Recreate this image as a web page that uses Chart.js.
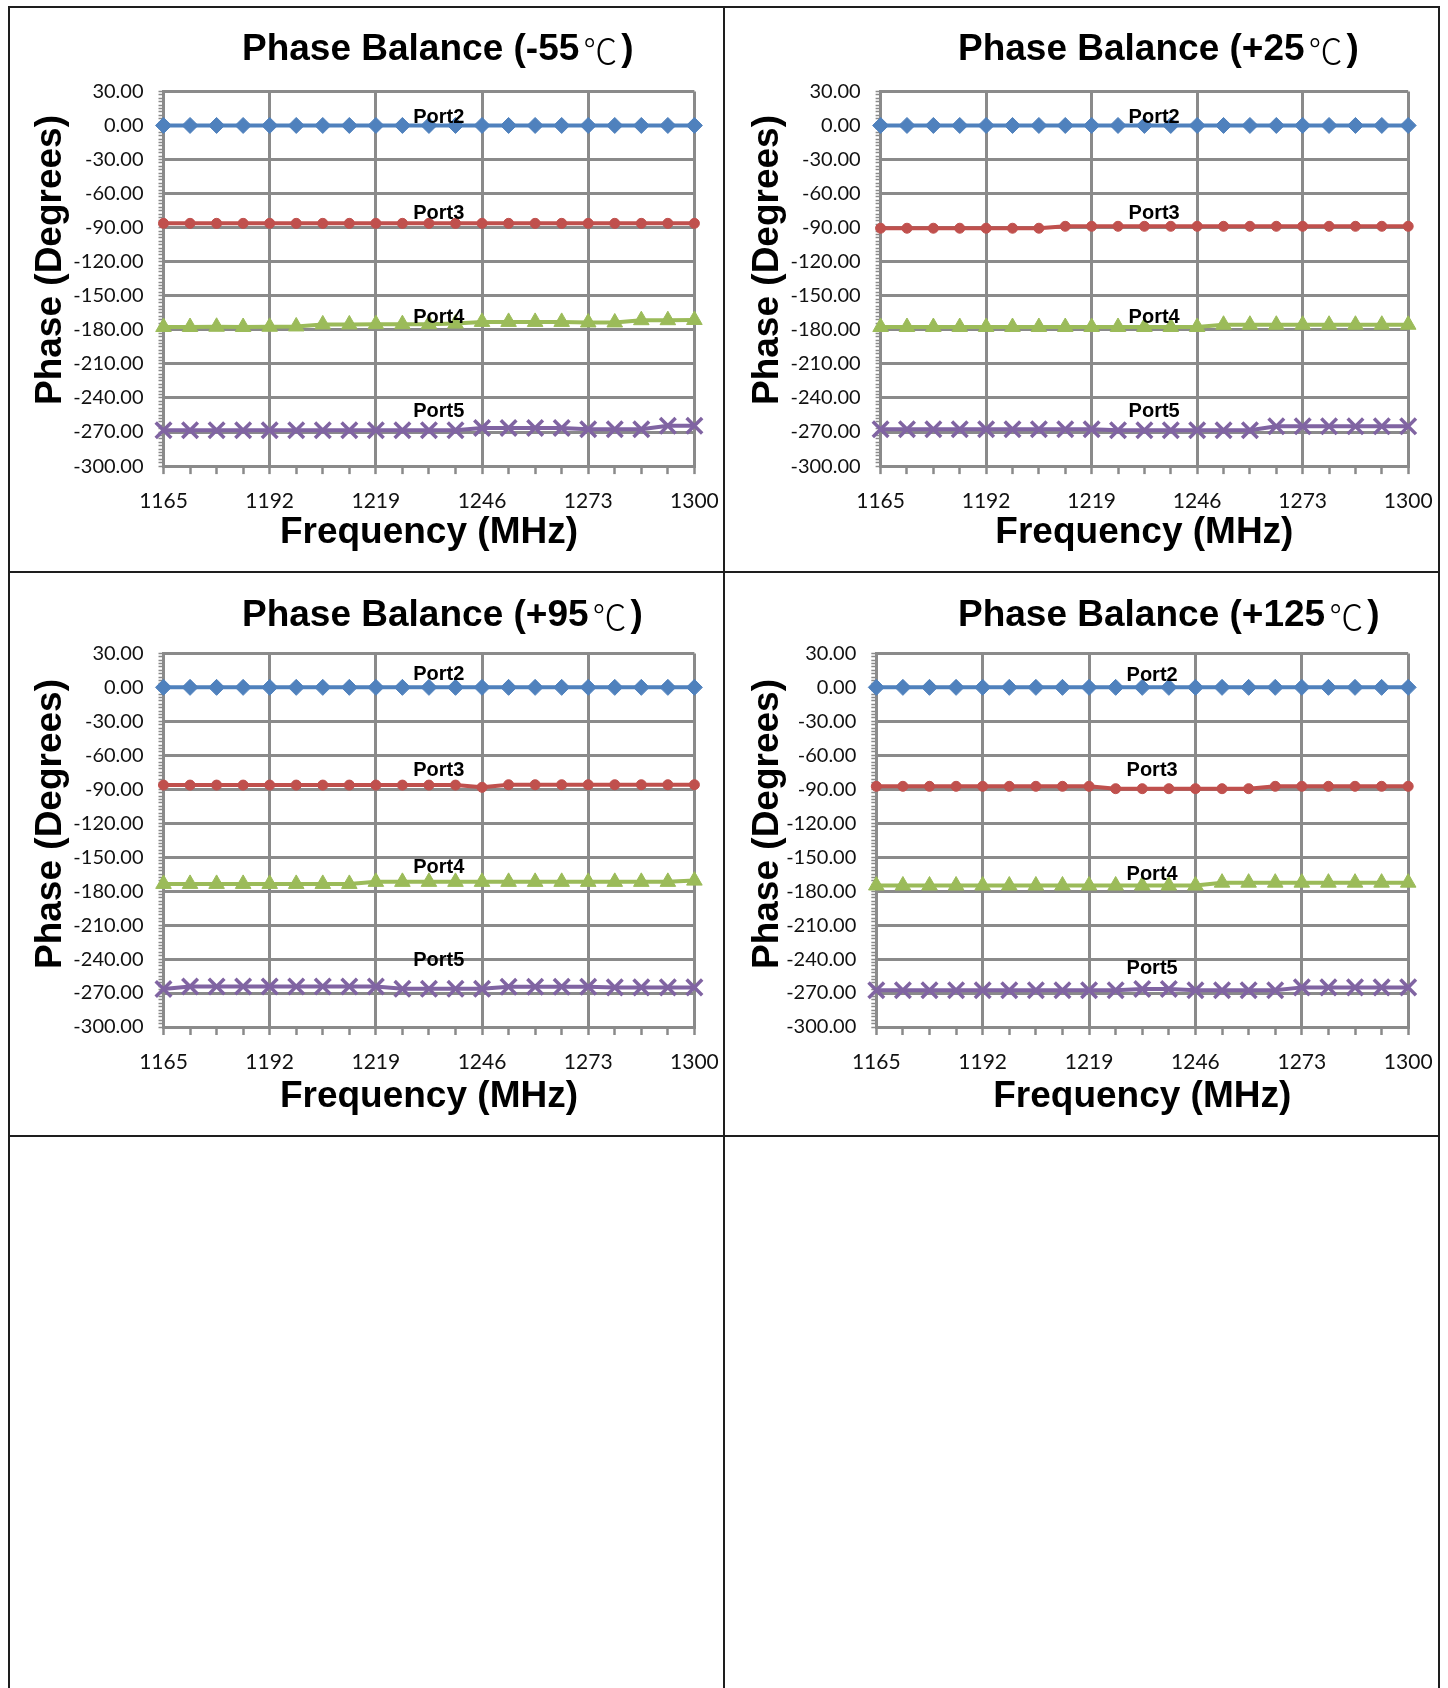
<!DOCTYPE html>
<html>
<head>
<meta charset="utf-8">
<script src="https://cdn.jsdelivr.net/npm/chart.js@4.4.1/dist/chart.umd.min.js"></script>
<style>
    body { margin: 0; background: #fff; }
    #page { position: relative; width: 1448px; height: 1688px; overflow: hidden; background: #fff; }
    .cell { position: absolute; width: 715px; height: 564px; }
    .line { position: absolute; background: #1e1e1e; }
</style>
</head>
<body>
<div id="page">
    <div class="cell" style="left:9px;top:7px"><canvas id="c0" width="715" height="564"></canvas></div>
    <div class="cell" style="left:724px;top:7px"><canvas id="c1" width="715" height="564"></canvas></div>
    <div class="cell" style="left:9px;top:572px"><canvas id="c2" width="715" height="564"></canvas></div>
    <div class="cell" style="left:724px;top:572px"><canvas id="c3" width="715" height="564"></canvas></div>

    <!-- garis sel -->
    <div class="line" style="left:8px;top:6px;width:2px;height:1682px"></div>
    <div class="line" style="left:723px;top:6px;width:2px;height:1682px"></div>
    <div class="line" style="left:1438px;top:6px;width:2px;height:1682px"></div>
    <div class="line" style="left:8px;top:6px;width:1432px;height:2px"></div>
    <div class="line" style="left:8px;top:571px;width:1432px;height:2px"></div>
    <div class="line" style="left:8px;top:1135px;width:1432px;height:2px"></div>
</div>

<script>
// Frekuensi (MHz) untuk setiap titik
const freqs = [1165, 1171.75, 1178.5, 1185.25, 1192, 1198.75, 1205.5, 1212.25, 1219, 1225.75, 1232.5,
               1239.25, 1246, 1252.75, 1259.5, 1266.25, 1273, 1279.75, 1286.5, 1293.25, 1300];
const xTickLabels = [1165, 1192, 1219, 1246, 1273, 1300];
const yTickLabels = [30, 0, -30, -60, -90, -120, -150, -180, -210, -240, -270, -300];

const portNames = ['Port2', 'Port3', 'Port4', 'Port5'];
const portColors = ['#4F81BD', '#C0504D', '#9BBB59', '#8064A2'];
const portMarkers = ['rectRot', 'circle', 'triangle', 'crossRot'];

const titles = ['Phase Balance (-55\u2103)', 'Phase Balance (+25\u2103)',
                'Phase Balance (+95\u2103)', 'Phase Balance (+125\u2103)'];

// -55 C
const port2_m55 = [0, 0, 0, 0, 0, 0, 0, 0, 0, 0, 0, 0, 0, 0, 0, 0, 0, 0, 0, 0, 0];
const port3_m55 = [-86.2, -86.2, -86.2, -86.2, -86.2, -86.2, -86.2, -86.2, -86.2, -86.2, -86.2,
                   -86.2, -86.2, -86.2, -86.2, -86.2, -86.2, -86.2, -86.2, -86.2, -86.2];
const port4_m55 = [-177.5, -177.5, -177.3, -177.5, -177.3, -177, -175.2, -175.2, -175, -175, -175,
                   -174.5, -173, -173, -173, -173, -173.5, -173.5, -171.5, -171.5, -171.3];
const port5_m55 = [-268.5, -268.5, -268.5, -268.5, -268.5, -268.5, -268.5, -268.5, -268.5, -268.5, -268.5,
                   -268.5, -266.5, -266.5, -266.5, -266.5, -267.5, -267.5, -267.5, -264.5, -264.5];

// +25 C
const port2_p25 = [0, 0, 0, 0, 0, 0, 0, 0, 0, 0, 0, 0, 0, 0, 0, 0, 0, 0, 0, 0, 0];
const port3_p25 = [-90.5, -90.5, -90.5, -90.5, -90.5, -90.5, -90.5, -88.8, -88.8, -88.8, -88.8,
                   -88.8, -88.8, -88.8, -88.8, -88.8, -88.8, -88.8, -88.8, -88.8, -88.8];
const port4_p25 = [-177.5, -177.5, -177.5, -177.5, -177.5, -177.5, -177.5, -177.5, -177.5, -177.5, -177.5,
                   -177.5, -177.5, -175.5, -175.5, -175.5, -175.5, -175.5, -175.5, -175.5, -175.5];
const port5_p25 = [-267.5, -267.5, -267.5, -267.5, -267.5, -267.5, -267.5, -267.5, -267.5, -268.5, -268.5,
                   -268.5, -268.5, -268.5, -268.5, -265, -265, -265, -265, -265, -265];

// +95 C
const port2_p95 = [0, 0, 0, 0, 0, 0, 0, 0, 0, 0, 0, 0, 0, 0, 0, 0, 0, 0, 0, 0, 0];
const port3_p95 = [-86.3, -86.3, -86.3, -86.3, -86.3, -86.3, -86.3, -86.3, -86.3, -86.3, -86.3,
                   -86.3, -88.3, -86, -86, -86, -86, -86, -86, -86, -86];
const port4_p95 = [-173.6, -173.6, -173.6, -173.6, -173.6, -173.6, -173.6, -173.6, -171.8, -171.8, -171.8,
                   -171.8, -171.8, -171.8, -171.8, -171.8, -171.8, -171.8, -171.8, -171.8, -170.7];
const port5_p95 = [-266.5, -264.3, -264.3, -264.3, -264.3, -264.3, -264.3, -264.3, -264.3, -266.3, -266.3,
                   -266.3, -266.3, -264.5, -264.5, -264.5, -264.5, -265, -265, -265, -265];

// +125 C
const port2_p125 = [0, 0, 0, 0, 0, 0, 0, 0, 0, 0, 0, 0, 0, 0, 0, 0, 0, 0, 0, 0, 0];
const port3_p125 = [-87.4, -87.4, -87.4, -87.4, -87.4, -87.4, -87.4, -87.4, -87.4, -89.5, -89.5,
                    -89.5, -89.5, -89.5, -89.5, -87.4, -87.4, -87.4, -87.4, -87.4, -87.4];
const port4_p125 = [-175, -175, -175, -175, -175, -175, -175, -175, -175, -175, -175,
                    -175, -175, -172.5, -172.5, -172.5, -172.5, -172.5, -172.5, -172.5, -172.5];
const port5_p125 = [-267.5, -267.5, -267.5, -267.5, -267.5, -267.5, -267.5, -267.5, -267.5, -267.5, -266.5,
                    -266.5, -267.5, -267.5, -267.5, -267.5, -265, -265, -265, -265, -265];

// Posisi label "PortN" (frekuensi, derajat)
const portLabelFreq = 1235;
const portLabelDeg_m55 = [7, -77.4, -169.4, -252];
const portLabelDeg_p25 = [7, -77.4, -169.4, -252];
const portLabelDeg_p95 = [11.7, -73.6, -158.9, -241.4];
const portLabelDeg_p125 = [10.8, -73.6, -165.6, -248.1];

const GRID = '#8a8a8a';
const BOLD = '"Liberation Sans", Arial, sans-serif';
const CJK = '"Noto Sans CJK SC", "Noto Sans CJK JP", sans-serif';
const TICKFONT = 'Lato, "Open Sans", sans-serif';

// Plugin untuk judul, label sumbu dan label port
const textPlugin = {
    id: 'excelText',
    afterDraw(chart) {
        const o = chart.options.plugins.excelText;
        const ctx = chart.ctx;
        const area = chart.chartArea;
        const xs = chart.scales.x;
        const ys = chart.scales.y;
        ctx.save();
        ctx.fillStyle = '#000';
        ctx.textBaseline = 'middle';

        // judul: tanda ℃ digambar dengan huruf tipis seperti aslinya
        const parts = o.title.split('\u2103');
        let x = o.titleX;
        ctx.textAlign = 'left';
        ctx.font = 'bold 37px ' + BOLD;
        ctx.fillText(parts[0], x, o.titleY);
        x += ctx.measureText(parts[0]).width + 4;
        ctx.font = '300 34px ' + CJK;
        ctx.fillText('\u2103', x, o.titleY + 1);
        x += ctx.measureText('\u2103').width + 4;
        ctx.font = 'bold 37px ' + BOLD;
        ctx.fillText(parts[1], x, o.titleY);

        ctx.textAlign = 'center';
        ctx.fillText('Frequency (MHz)', (area.left + area.right) / 2, o.xTitleY);

        ctx.save();
        ctx.translate(o.yTitleX, o.yTitleY);
        ctx.rotate(-Math.PI / 2);
        ctx.fillText('Phase (Degrees)', 0, 0);
        ctx.restore();

        ctx.font = 'bold 20px ' + BOLD;
        o.labelDeg.forEach((deg, i) => {
            ctx.fillText(portNames[i], xs.getPixelForValue(portLabelFreq), ys.getPixelForValue(deg));
        });
        ctx.restore();
    }
};

function makeChart(id, title, series, labelDeg, box) {
    const datasets = series.map((vals, i) => ({
        label: portNames[i],
        data: freqs.map((f, j) => ({ x: f, y: vals[j] })),
        borderColor: portColors[i],
        backgroundColor: portColors[i],
        borderWidth: 4,
        pointStyle: portMarkers[i],
        pointRadius: [8, 5, 9, 11][i],
        pointBorderWidth: i === 3 ? 3.5 : 1,
        pointBackgroundColor: portColors[i],
        pointBorderColor: portColors[i],
        tension: 0,
        clip: false
    }));

    return new Chart(document.getElementById(id), {
        type: 'line',
        data: { datasets },
        plugins: [textPlugin],
        options: {
            responsive: false,
            animation: false,
            layout: { padding: box.padding },
            plugins: {
                legend: { display: false },
                tooltip: { enabled: false },
                excelText: { title, labelDeg, ...box.text }
            },
            scales: {
                x: {
                    type: 'linear',
                    min: 1165,
                    max: 1300,
                    afterBuildTicks: scale => { scale.ticks = freqs.map(v => ({ value: v })); },
                    afterFit: scale => {
                        scale.height = 60;
                        scale.paddingLeft = 0;
                        scale.paddingRight = 0;
                    },
                    ticks: {
                        autoSkip: false,
                        maxRotation: 0,
                        padding: 15,
                        color: '#111',
                        font: { family: TICKFONT, size: 21 },
                        callback: value => xTickLabels.includes(value) ? String(value) : ''
                    },
                    grid: {
                        color: c => xTickLabels.includes(c.tick.value) ? GRID : 'transparent',
                        lineWidth: 3,
                        tickColor: GRID,
                        tickLength: 8,
                        tickWidth: 2.5
                    },
                    border: { color: GRID, width: 3 }
                },
                y: {
                    type: 'linear',
                    min: -300,
                    max: 30,
                    afterBuildTicks: scale => {
                        const t = [];
                        for (let v = -300; v <= 30; v += 3) t.push({ value: v });
                        scale.ticks = t;
                    },
                    afterFit: scale => { scale.width = 100; },
                    ticks: {
                        autoSkip: false,
                        padding: 15,
                        color: '#111',
                        font: { family: TICKFONT, size: 20 },
                        callback: value => yTickLabels.includes(value) ? value.toFixed(2) : ''
                    },
                    grid: {
                        color: c => yTickLabels.includes(c.tick.value) ? GRID : 'transparent',
                        lineWidth: 3,
                        tickColor: GRID,
                        tickLength: 5,
                        tickWidth: 1.5
                    },
                    border: { color: GRID, width: 3 }
                }
            }
        }
    });
}

makeChart('c0', titles[0], [port2_m55, port3_m55, port4_m55, port5_m55], portLabelDeg_m55, {
    padding: { left: 54.5, top: 84.4, right: 29.6, bottom: 44.9 },
    text: { titleX: 233, titleY: 43, yTitleX: 42, yTitleY: 253, xTitleY: 526 }
});
makeChart('c1', titles[1], [port2_p25, port3_p25, port4_p25, port5_p25], portLabelDeg_p25, {
    padding: { left: 56.6, top: 84.4, right: 30.8, bottom: 44.9 },
    text: { titleX: 234, titleY: 43, yTitleX: 44, yTitleY: 253, xTitleY: 526 }
});
makeChart('c2', titles[2], [port2_p95, port3_p95, port4_p95, port5_p95], portLabelDeg_p95, {
    padding: { left: 54.5, top: 81.4, right: 29.6, bottom: 49 },
    text: { titleX: 233, titleY: 44, yTitleX: 42, yTitleY: 252, xTitleY: 525 }
});
makeChart('c3', titles[3], [port2_p125, port3_p125, port4_p125, port5_p125], portLabelDeg_p125, {
    padding: { left: 52.3, top: 81.4, right: 30.8, bottom: 49 },
    text: { titleX: 234, titleY: 44, yTitleX: 44, yTitleY: 252, xTitleY: 525 }
});
</script>
</body>
</html>
